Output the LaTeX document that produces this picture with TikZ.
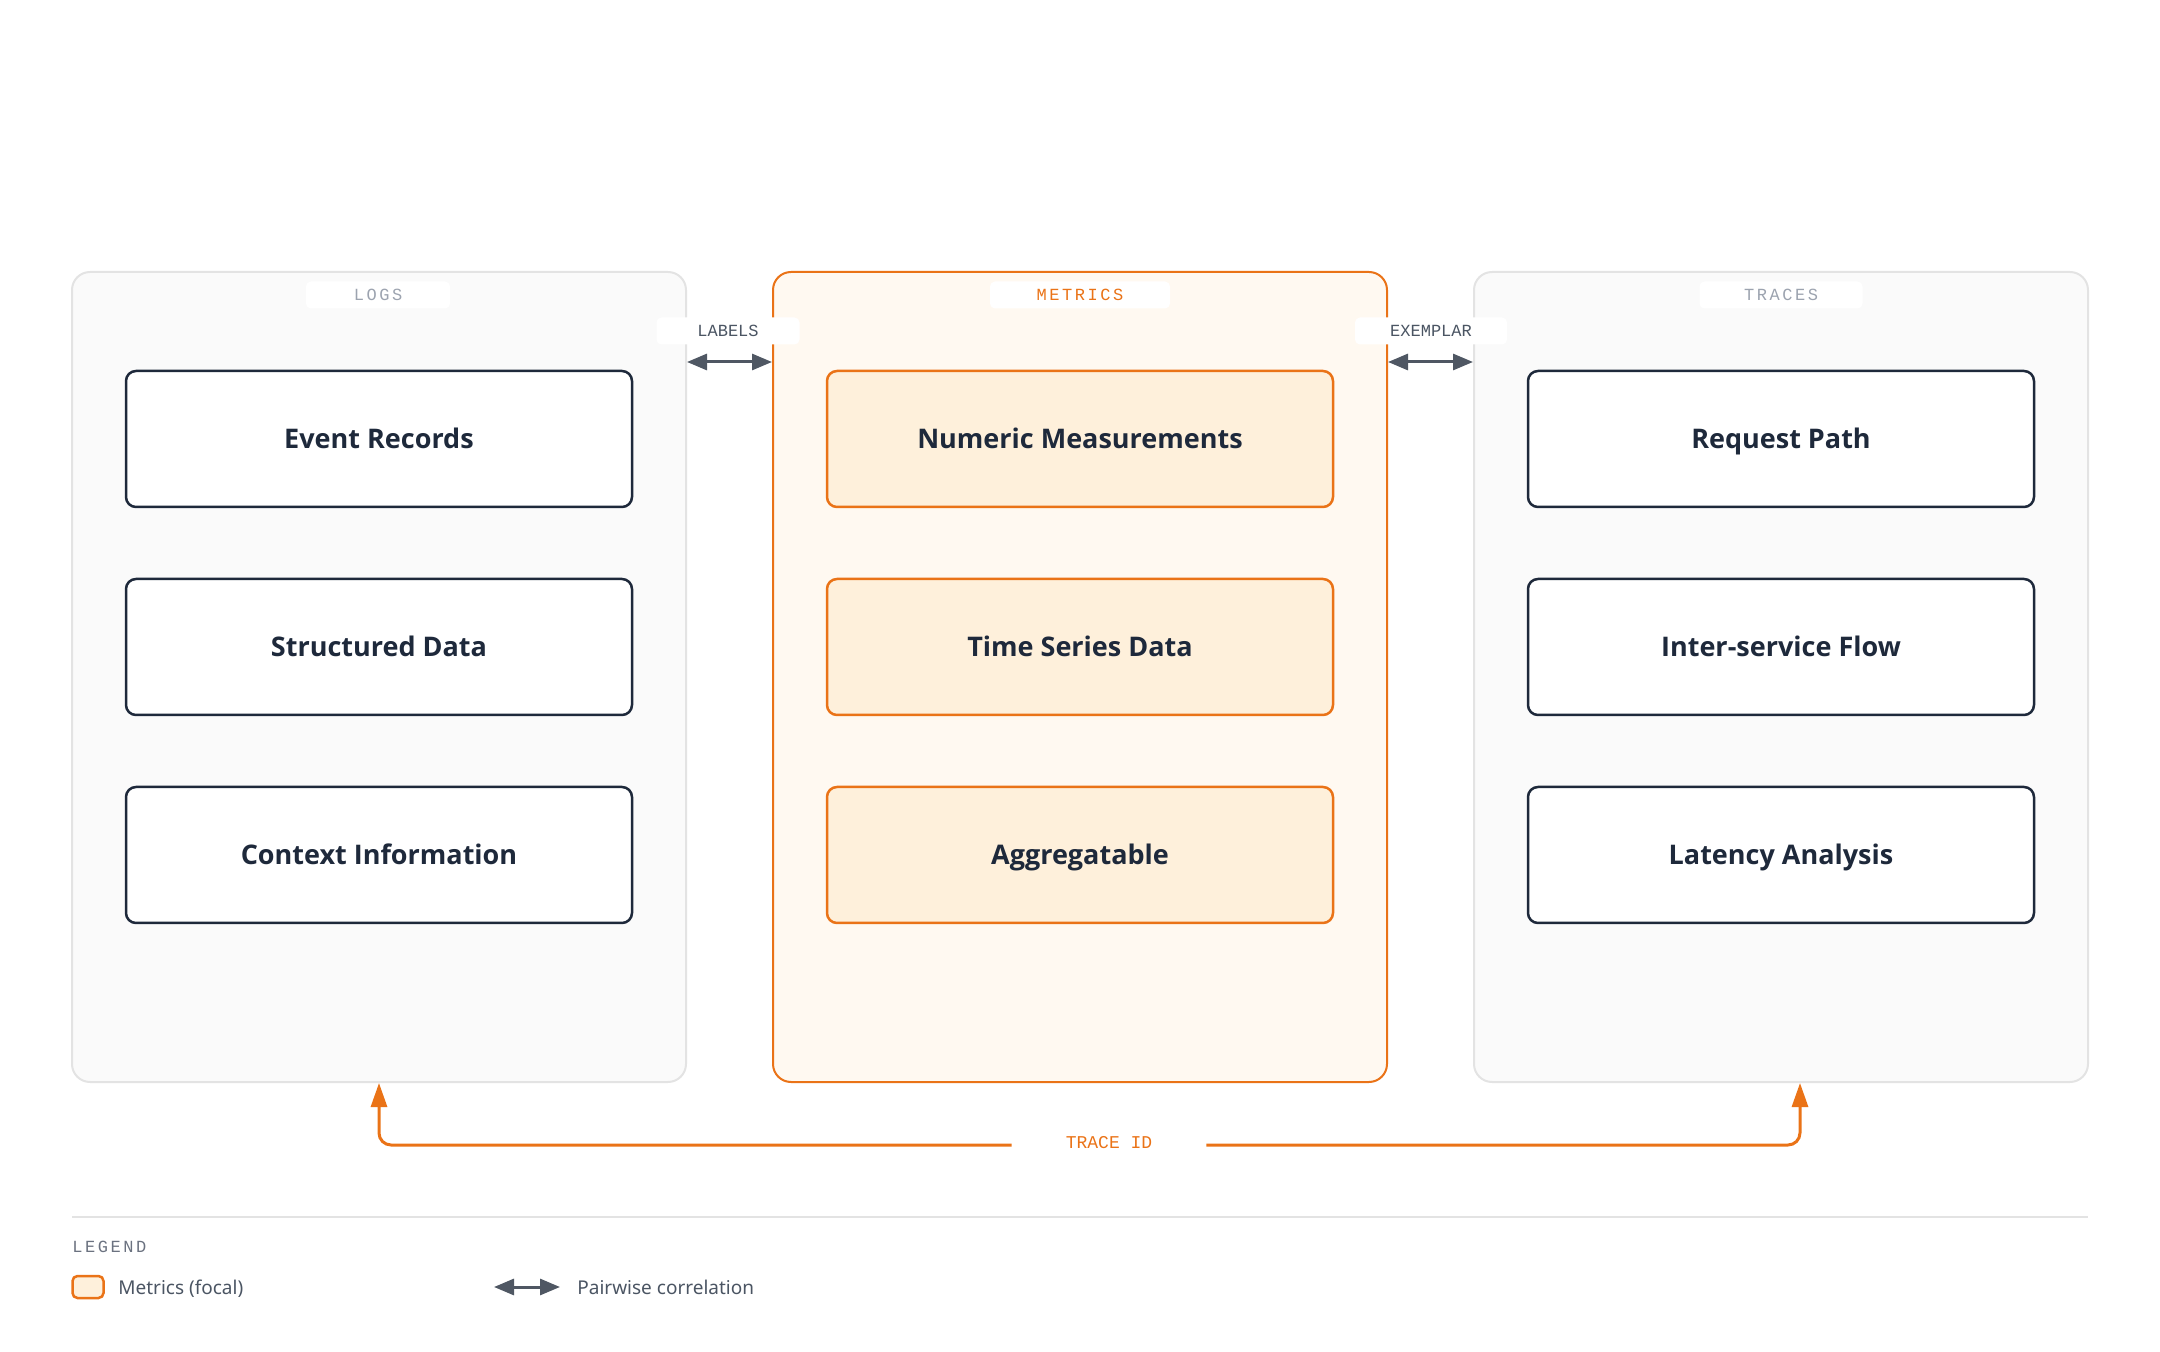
\documentclass[tikz,border=0pt]{standalone}
\usepackage{fontspec}
\setmainfont{Noto Sans}
\newfontfamily\boxfont{Open Sans}
\newfontfamily\monoplain{Liberation Mono}
\newfontfamily\monospaced{Liberation Mono}[LetterSpace=15]
\usetikzlibrary{arrows.meta}
\definecolor{orangeC}{HTML}{EA7317}
\definecolor{metricsBg}{HTML}{FFF9F1}
\definecolor{metricsInner}{HTML}{FEF0DB}
\definecolor{greyBg}{HTML}{FAFAFA}
\definecolor{greyBorder}{HTML}{E3E3E3}
\definecolor{navy}{HTML}{1E293B}
\definecolor{arrowGrey}{HTML}{4F5763}
\definecolor{lightLabel}{HTML}{9CA3AF}
\definecolor{darkLabel}{HTML}{4B5563}
\definecolor{legendHead}{HTML}{6B7280}
\tikzset{
  outerbox/.style={rectangle, rounded corners=9pt, minimum width=307pt, minimum height=405pt,
    inner sep=0pt, line width=1pt, draw=greyBorder, fill=greyBg},
  focalouter/.style={outerbox, draw=orangeC, fill=metricsBg},
  innerbox/.style={rectangle, rounded corners=5pt, minimum width=253pt, minimum height=68pt,
    inner sep=0pt, line width=1.25pt, draw=navy, fill=white, text=navy,
    text height=9.7pt, text depth=0pt,
    font=\boxfont\bfseries\fontsize{13.5}{17}\selectfont},
  focalinner/.style={innerbox, draw=orangeC, fill=metricsInner},
  tag/.style={rectangle, fill=white, rounded corners=2.5pt, minimum height=13.5pt, inner sep=0pt,
    font=\monospaced\fontsize{8.5}{10}\selectfont},
  linktag/.style={rectangle, fill=white, rounded corners=2.5pt, minimum height=13.5pt, inner sep=0pt,
    font=\monoplain\fontsize{8.5}{10}\selectfont, text=darkLabel},
  pair/.style={{Triangle[length=10pt,width=8pt]}-{Triangle[length=10pt,width=8pt]}, line width=1.5pt, draw=arrowGrey},
  traceline/.style={draw=orangeC, line width=1.5pt, rounded corners=6pt, -{Triangle[length=12pt,width=8pt]}},
  legendtext/.style={anchor=west, inner sep=0pt, text=darkLabel, text height=6.8pt, text depth=0pt,
    font=\fontsize{9.5}{11}\selectfont},
}
\begin{document}
\begin{tikzpicture}[x=0.5pt, y=-0.5pt]
\useasboundingbox (0,0) rectangle (2160,1352);

% outer panels
\node[outerbox] (logs) at (379,677) {};
\node[focalouter] (metrics) at (1080,677) {};
\node[outerbox] (traces) at (1781,677) {};

% panel titles
\node[tag, minimum width=72pt, text=lightLabel] (logsT) at (378,295) {LOGS};
\node[tag, minimum width=90pt, text=orangeC] (metricsT) at (1080,295) {METRICS};
\node[tag, minimum width=81.5pt, text=lightLabel] (tracesT) at (1781,295) {TRACES};

% inner boxes
\node[innerbox] (l1) at (379,439) {Event Records};
\node[innerbox] (l2) at (379,647) {Structured Data};
\node[innerbox] (l3) at (379,855) {Context Information};
\node[focalinner] (m1) at (1080,439) {Numeric Measurements};
\node[focalinner] (m2) at (1080,647) {Time Series Data};
\node[focalinner] (m3) at (1080,855) {Aggregatable};
\node[innerbox] (t1) at (1781,439) {Request Path};
\node[innerbox] (t2) at (1781,647) {Inter-service Flow};
\node[innerbox] (t3) at (1781,855) {Latency Analysis};

% pairwise links
\coordinate (rowA) at (0,362);
\node[linktag, minimum width=71.5pt] (labelsT) at (728,331) {LABELS};
\node[linktag, minimum width=76pt] (exemplarT) at (1431,331) {EXEMPLAR};
\draw[pair] (logs.east |- rowA) -- (metrics.west |- rowA);
\draw[pair] (metrics.east |- rowA) -- (traces.west |- rowA);

% trace id
\coordinate (rowT) at (0,1145);
\node[inner sep=0pt, minimum width=97pt, minimum height=10pt, text=orangeC,
  font=\monoplain\fontsize{9}{10}\selectfont] (tid) at (1109,1143) {TRACE ID};
\draw[traceline] (tid.west |- rowT) -| (logs.south);
\draw[traceline] (tid.east |- rowT) -| ([xshift=9.5pt]traces.south);

% legend
\coordinate (legL) at (72,1217);
\coordinate (legR) at (2088,1217);
\draw[greyBorder, line width=1pt] (legL) -- (legR);
\node[anchor=west, inner sep=0pt, text=legendHead, font=\monospaced\fontsize{8.5}{10}\selectfont] (legT) at (72,1247) {LEGEND};
\node[rectangle, minimum width=15.5pt, minimum height=11pt, inner sep=0pt, rounded corners=2.5pt,
  draw=orangeC, line width=1.25pt, fill=metricsInner] (sw) at (88,1287) {};
\node[legendtext] (swT) at (118,1288) {Metrics (focal)};
\coordinate (la) at (494,1287);
\coordinate (lb) at (560,1287);
\draw[pair] (la) -- (lb);
\node[legendtext] (pairT) at (577,1288) {Pairwise correlation};
\end{tikzpicture}
\end{document}
